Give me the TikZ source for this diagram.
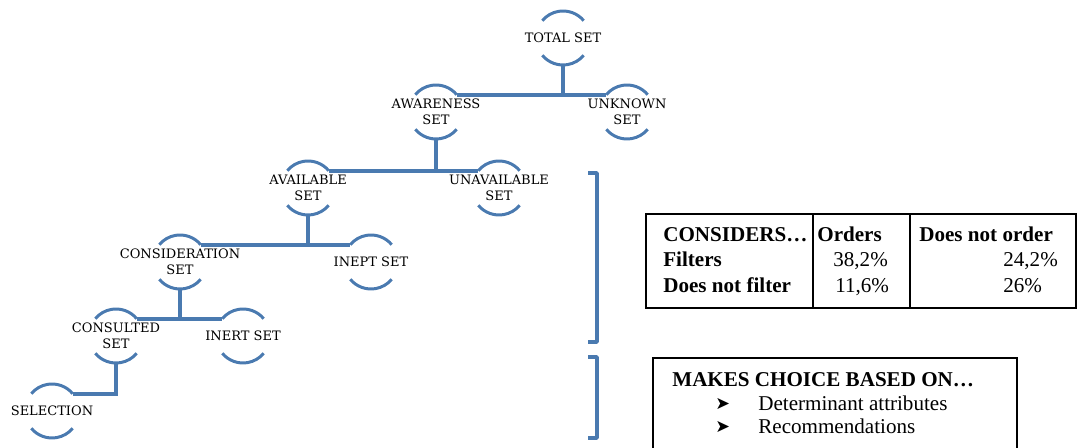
\documentclass[tikz,border=0pt]{standalone}
\usepackage{fontspec}
\setmainfont{Liberation Serif}
\newfontfamily\setfont{DejaVu Serif}
\newfontfamily\dingfont{DejaVu Sans}
\definecolor{setblue}{RGB}{74,122,176}
\begin{document}
\begin{tikzpicture}[x=0.02cm,y=0.02cm,
    setlbl/.style={font=\setfont\fontsize{7.4}{8.8}\selectfont, align=center, inner sep=0pt},
    rim/.style={draw=setblue, line width=1.7pt},
    branch/.style={draw=setblue, line width=2.2pt},
    bracket/.style={draw=setblue, line width=2pt, line join=round},
    tabtxt/.style={font=\fontsize{12}{14}\selectfont, inner sep=0pt, anchor=base west},
    tabhead/.style={tabtxt, font=\fontsize{12}{14}\selectfont\bfseries},
    bullet/.style={tabtxt, font=\dingfont\fontsize{10}{10}\selectfont}]
  \useasboundingbox (0,0) rectangle (1077,448);

  % Sets
  \node[setlbl] (total) at (563,410) {TOTAL SET};
  \node[setlbl] (aware) at (436,336) {AWARENESS\\SET};
  \node[setlbl] (unknown) at (627,336) {UNKNOWN\\SET};
  \node[setlbl] (avail) at (308,260) {AVAILABLE\\SET};
  \node[setlbl] (unavail) at (499,260) {UNAVAILABLE\\SET};
  \node[setlbl] (consid) at (180,186) {CONSIDERATION\\SET};
  \node[setlbl] (inept) at (371,186) {INEPT SET};
  \node[setlbl] (consult) at (116,112) {CONSULTED\\SET};
  \node[setlbl] (inert) at (243,112) {INERT SET};
  \node[setlbl] (select) at (52,37) {SELECTION};

  % Arcs above and below each set
  \foreach \n in {total,aware,unknown,avail,unavail,consid,inept,consult,inert,select}{
    \draw[rim] ([shift={(40:27)}]\n.center) arc[start angle=40,end angle=140,radius=27];
    \draw[rim] ([shift={(220:27)}]\n.center) arc[start angle=220,end angle=320,radius=27];
    \coordinate (\n-l) at ([shift={(140:27)}]\n.center);
    \coordinate (\n-r) at ([shift={(40:27)}]\n.center);
    \coordinate (\n-b) at ([shift={(270:27)}]\n.center);
  }

  % Branches
  \draw[branch] (total-b) -- (total-b |- aware-r);
  \draw[branch] (aware-r) -- (unknown-l);
  \draw[branch] (aware-b) -- (aware-b |- avail-r);
  \draw[branch] (avail-r) -- (unavail-l);
  \draw[branch] (avail-b) -- (avail-b |- consid-r);
  \draw[branch] (consid-r) -- (inept-l);
  \draw[branch] (consid-b) -- (consid-b |- consult-r);
  \draw[branch] (consult-r) -- (inert-l);
  \draw[branch] (consult-b) |- (select-r);

  % Brackets
  \draw[bracket] (588,275) -- (597,275) -- (597,106) -- (588,106);
  \draw[bracket] (588,91) -- (597,91) -- (597,10) -- (588,10);

  % Considers table
  \draw[line width=0.6pt] (646,234) rectangle (1076,140);
  \draw[line width=0.6pt] (813,234) -- (813,140);
  \draw[line width=0.6pt] (910,234) -- (910,140);
  \node[tabhead] (cons) at (663,206) {CONSIDERS…};
  \node[tabhead] (orders) at (817,206) {Orders};
  \node[tabhead] (notorder) at (919,206) {Does not order};
  \node[tabhead] (filt) at (663,181) {Filters};
  \node[tabhead] (nofilt) at (663,155) {Does not filter};
  \node[tabtxt] (filtord) at (833,181) {38,2\%};
  \node[tabtxt] (nofiltord) at (835,155) {11,6\%};
  \node[tabtxt] (filtnot) at (1003,181) {24,2\%};
  \node[tabtxt] (nofiltnot) at (1003,155) {26\%};

  % Choice box
  \draw[line width=0.6pt] (653,90) rectangle (1017,-5);
  \node[tabhead] (choice) at (672,61) {MAKES CHOICE BASED ON…};
  \node[bullet] (arrA) at (715,38) {➤};
  \node[tabtxt] (determ) at (758,37) {Determinant attributes};
  \node[bullet] (arrB) at (715,15) {➤};
  \node[tabtxt] (recomm) at (758,14) {Recommendations};
\end{tikzpicture}
\end{document}
